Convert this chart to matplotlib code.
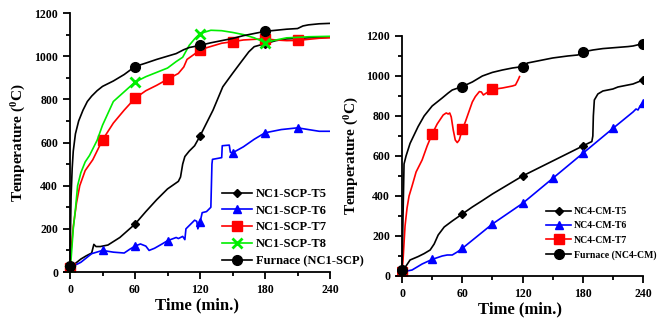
import matplotlib
matplotlib.use("Agg")
import matplotlib.pyplot as plt
from matplotlib.ticker import MultipleLocator

plt.rcParams['font.family'] = ['Liberation Serif', 'DejaVu Serif']
plt.rcParams['font.weight'] = 'bold'
plt.rcParams['mathtext.fontset'] = 'custom'
plt.rcParams['mathtext.rm'] = 'Liberation Serif:bold'
plt.rcParams['mathtext.bf'] = 'Liberation Serif:bold'
plt.rcParams['mathtext.it'] = 'Liberation Serif:bold'

# ---------------- Left panel: NC1-SCP ----------------
t_fur1 = [0, 0.5, 1, 2, 3, 5, 8, 12, 16, 20, 25, 30, 40, 50, 60, 70, 80, 90, 98, 105, 110, 120, 130, 140, 150, 160, 170, 180, 190, 200, 210, 215, 220, 230, 240]
T_fur1 = [30, 200, 350, 480, 560, 640, 700, 750, 790, 815, 840, 860, 885, 915, 952, 968, 985, 1000, 1012, 1030, 1040, 1050, 1062, 1072, 1082, 1095, 1105, 1115, 1120, 1125, 1128, 1140, 1145, 1150, 1152]
mk_fur1 = [0, 60, 120, 180]

t_t5a = [0, 5, 10, 15, 20, 22, 24, 28, 35, 46, 60, 70, 80, 90, 100, 102, 104, 106, 110, 115, 120, 126, 132, 141, 150, 157, 165, 170, 180, 190, 200, 220, 240]
T_t5a = [20, 40, 60, 75, 88, 128, 118, 118, 125, 160, 222, 280, 335, 385, 420, 440, 500, 535, 560, 585, 630, 690, 750, 858, 920, 967, 1020, 1044, 1058, 1072, 1080, 1085, 1088]
mk_t5a = [0, 60, 120, 180]

t_t6a = [0, 10, 20, 30, 40, 50, 55, 60, 65, 70, 73, 78, 85, 90, 98, 100, 104, 106, 107, 110, 115, 117, 118, 120, 122, 126, 130, 131, 131.5, 137, 140, 140.5, 147, 148, 150, 160, 170, 180, 195, 210, 220, 230, 240]
T_t6a = [20, 45, 85, 100, 92, 88, 105, 120, 130, 120, 100, 110, 130, 145, 160, 155, 165, 150, 200, 215, 240, 235, 200, 230, 275, 280, 300, 500, 522, 527, 530, 585, 588, 555, 552, 580, 615, 645, 660, 668, 660, 652, 652]
mk_t6a = [0, 30, 60, 90, 120, 150, 180, 210]

t_t7a = [0, 1, 3, 6, 9, 14, 21, 30, 40, 50, 60, 70, 80, 90, 100, 105, 108, 115, 120, 130, 140, 150, 160, 170, 180, 190, 200, 210, 220, 230, 240]
T_t7a = [20, 100, 210, 320, 400, 470, 520, 612, 690, 750, 805, 840, 865, 893, 920, 950, 985, 1010, 1030, 1045, 1060, 1067, 1075, 1078, 1080, 1075, 1072, 1073, 1078, 1083, 1085]
mk_t7a = [0, 30, 60, 90, 120, 150, 180, 210]

t_t8a = [0, 1, 3, 5, 7, 10, 14, 18, 25, 30, 40, 50, 60, 70, 80, 90, 98, 104, 110, 115, 120, 130, 140, 150, 160, 170, 180, 190, 200, 210, 220, 240]
T_t8a = [10, 60, 200, 290, 400, 460, 510, 540, 610, 680, 790, 835, 880, 905, 925, 945, 975, 995, 1050, 1080, 1105, 1120, 1118, 1110, 1100, 1085, 1063, 1075, 1085, 1087, 1090, 1092]
mk_t8a = [0, 60, 120, 180]

labels_left = ['NC1-SCP-T5', 'NC1-SCP-T6', 'NC1-SCP-T7', 'NC1-SCP-T8', 'Furnace (NC1-SCP)']

# ---------------- Right panel: NC4-CM ----------------
t_fur2 = [0, 1, 2, 4, 8, 16, 22, 30, 40, 46, 50, 60, 70, 80, 90, 100, 110, 120, 125, 132, 150, 165, 175, 180, 190, 200, 225, 230, 240]
T_fur2 = [30, 300, 560, 600, 663, 747, 800, 850, 890, 915, 930, 947, 970, 1000, 1018, 1030, 1040, 1047, 1065, 1072, 1090, 1100, 1105, 1120, 1130, 1137, 1147, 1150, 1162]
mk_fur2 = [0, 60, 120, 180, 240]

t_t5b = [0, 2, 4, 8, 16, 22, 28, 32, 36, 42, 50, 60, 70, 80, 90, 100, 110, 120, 130, 140, 150, 160, 170, 180, 186, 189, 190, 190.5, 191.5, 195, 200, 210, 215, 225, 230, 240]
T_t5b = [20, 25, 50, 80, 97, 112, 130, 160, 205, 245, 275, 310, 345, 377, 410, 440, 470, 500, 525, 550, 575, 600, 625, 650, 665, 672, 700, 800, 880, 910, 925, 935, 945, 955, 960, 980]
mk_t5b = [60, 120, 180, 240]

t_t6b = [0, 5, 10, 15, 20, 30, 40, 45, 50, 55, 60, 90, 120, 150, 180, 210, 230, 233, 235, 237, 240]
T_t6b = [20, 25, 30, 45, 60, 83, 100, 105, 105, 120, 138, 260, 363, 488, 613, 738, 820, 835, 830, 850, 867]
mk_t6b = [30, 60, 90, 120, 150, 180, 210, 240]

t_t7b = [0, 1, 3, 5, 7, 10, 14, 20, 25, 30, 35, 41, 44, 46, 47.5, 49, 51, 53, 55, 57, 60, 63, 66, 70, 73, 77, 79, 81, 84, 90, 100, 110, 113, 116, 117]
T_t7b = [20, 80, 250, 340, 400, 450, 520, 580, 650, 710, 760, 805, 815, 810, 815, 795, 730, 680, 667, 680, 733, 770, 813, 870, 897, 922, 920, 905, 915, 933, 940, 950, 955, 985, 997]
mk_t7b = [0, 30, 60, 90]

labels_right = ['NC4-CM-T5', 'NC4-CM-T6', 'NC4-CM-T7', 'Furnace (NC4-CM)']

xticks = [0, 60, 120, 180, 240]
yticks = [0, 200, 400, 600, 800, 1000, 1200]


def idx(t, marks):
    return [list(t).index(m) for m in marks]


def style_axes(ax, xmin):
    ax.set_xlim(xmin, 240)
    ax.set_ylim(0, 1200)
    ax.spines['top'].set_visible(False)
    ax.spines['right'].set_visible(False)
    ax.spines['left'].set_position(('data', 0))
    for s in ('left', 'bottom'):
        ax.spines[s].set_linewidth(1.3)
    ax.set_xticks(xticks)
    ax.set_yticks(yticks)
    ax.xaxis.set_minor_locator(MultipleLocator(30))
    ax.yaxis.set_minor_locator(MultipleLocator(100))
    ax.tick_params(which='major', direction='out', length=5, width=1.3, labelsize=8.5)
    ax.tick_params(which='minor', direction='out', length=3, width=1.3)
    for lab in ax.get_xticklabels() + ax.get_yticklabels():
        lab.set_fontweight('bold')
    ax.set_xlabel('Time (min.)', fontsize=12, fontweight='bold', labelpad=1)
    ax.set_ylabel(r'Temperature ($^{0}$C)', fontsize=11, fontweight='bold')


fig = plt.figure(figsize=(6.65, 3.21), dpi=100)
ax1 = fig.add_axes([0.0955, 0.1526, 0.4008, 0.8069])
ax2 = fig.add_axes([0.597, 0.1402, 0.370, 0.7477])

lw = 1.2
ax1.plot(t_t5a, T_t5a, color='black', lw=lw, marker='D', ms=4.5, markevery=idx(t_t5a, mk_t5a), label=labels_left[0])
ax1.plot(t_t6a, T_t6a, color='#0000FF', lw=lw, marker='^', ms=5.5, markevery=idx(t_t6a, mk_t6a), label=labels_left[1])
ax1.plot(t_t7a, T_t7a, color='#FF0000', lw=lw, marker='s', ms=6.5, markevery=idx(t_t7a, mk_t7a), label=labels_left[2])
ax1.plot(t_t8a, T_t8a, color='#00EE00', lw=lw, marker='x', ms=6.5, mew=2, markevery=idx(t_t8a, mk_t8a), label=labels_left[3])
ax1.plot(t_fur1, T_fur1, color='black', lw=lw, marker='o', ms=7, markevery=idx(t_fur1, mk_fur1), label=labels_left[4])
style_axes(ax1, -6)
ax1.yaxis.set_label_coords(-0.135, 0.5)

ax2.plot(t_t5b, T_t5b, color='black', lw=lw, marker='D', ms=4.5, markevery=idx(t_t5b, mk_t5b), label=labels_right[0])
ax2.plot(t_t6b, T_t6b, color='#0000FF', lw=lw, marker='^', ms=5.5, markevery=idx(t_t6b, mk_t6b), label=labels_right[1])
ax2.plot(t_t7b, T_t7b, color='#FF0000', lw=lw, marker='s', ms=6.5, markevery=idx(t_t7b, mk_t7b), label=labels_right[2])
ax2.plot(t_fur2, T_fur2, color='black', lw=lw, marker='o', ms=7, markevery=idx(t_fur2, mk_fur2), label=labels_right[3])
style_axes(ax2, -5)
ax2.yaxis.set_label_coords(-0.145, 0.5)

leg1 = ax1.legend(loc='upper left', bbox_to_anchor=(222 / 665, 1 - 188 / 321), bbox_transform=fig.transFigure,
                  frameon=False, prop={'family': 'Liberation Serif', 'weight': 'bold', 'size': 9},
                  handlelength=2.4, handletextpad=0.3, labelspacing=0.38, borderaxespad=0, borderpad=0)
leg2 = ax2.legend(loc='upper left', bbox_to_anchor=(546 / 665, 1 - 207 / 321), bbox_transform=fig.transFigure,
                  frameon=False, prop={'family': 'Liberation Serif', 'weight': 'bold', 'size': 7},
                  handlelength=2.6, handletextpad=0.3, labelspacing=0.55, borderaxespad=0, borderpad=0)

fig.savefig('out.png', dpi=100)
